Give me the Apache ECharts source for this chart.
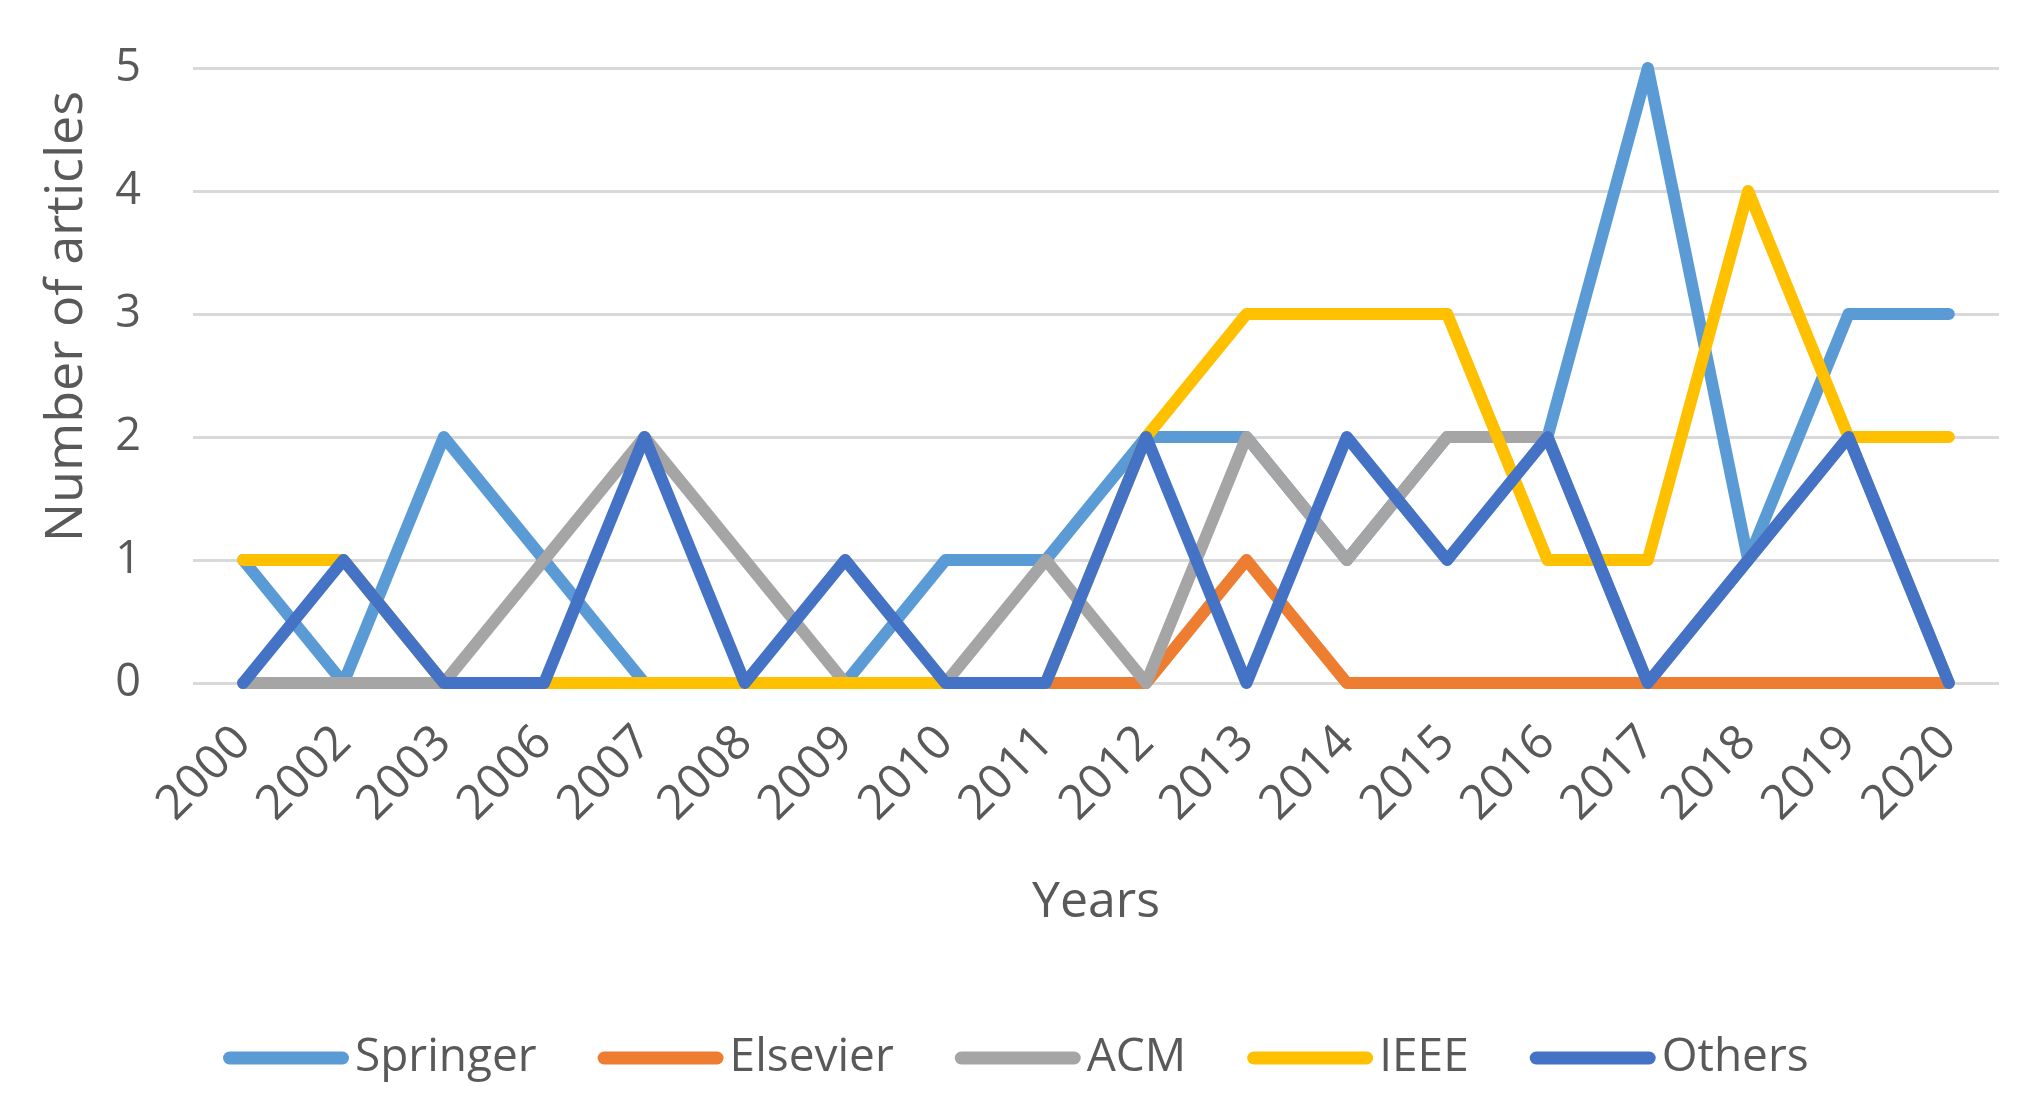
<!DOCTYPE html>
<html>
<head>
<meta charset="utf-8">
<script src="https://cdn.jsdelivr.net/npm/echarts@6/dist/echarts.min.js"></script>
<style>
html,body{margin:0;padding:0;background:#fff;}
#chart{width:2036px;height:1108px;}
</style>
</head>
<body>
<div id="chart"></div>
<script>
const years = ['2000','2002','2003','2006','2007','2008','2009','2010','2011','2012','2013','2014','2015','2016','2017','2018','2019','2020'];
const springer  = [1,0,2,1,0,0,0,1,1,2,2,1,2,2,5,1,3,3];
const elsevier  = [0,0,0,0,0,0,0,0,0,0,1,0,0,0,0,0,0,0];
const acm       = [0,0,0,1,2,1,0,0,1,0,2,1,2,2,0,1,2,0];
const ieee      = [1,1,0,0,0,0,0,0,0,2,3,3,3,1,1,4,2,2];
const others    = [0,1,0,0,2,0,1,0,0,2,0,2,1,2,0,1,2,0];
const yTicks = [0,1,2,3,4,5];

const seriesDefs = [
  {name:'Springer', data:springer, color:'#5B9BD5'},
  {name:'Elsevier', data:elsevier, color:'#ED7D31'},
  {name:'ACM', data:acm, color:'#A5A5A5'},
  {name:'IEEE', data:ieee, color:'#FFC000'},
  {name:'Others', data:others, color:'#4472C4'}
];

const font = 'Open Sans';
const txt = '#595959';
const chart = echarts.init(document.getElementById('chart'));
chart.setOption({
  animation:false,
  backgroundColor:'#fff',
  grid:{left:193, right:37, top:68, bottom:425, containLabel:false},
  legend:{
    bottom: 22,
    left:218,
    itemWidth:126,
    itemHeight:13,
    itemGap:61,
    icon:'path://M6.5,0 H119.5 A6.5,6.5 0 0 1 119.5,13 H6.5 A6.5,6.5 0 0 1 6.5,0 Z',
    textStyle:{fontFamily:font, fontSize:46, color:txt, padding:[0,0,0,1]},
    data: seriesDefs.map(s=>s.name)
  },
  xAxis:{
    type:'category',
    data:years,
    boundaryGap:true,
    name:'Years',
    nameLocation:'middle',
    nameGap:195,
    nameTextStyle:{fontFamily:font, fontSize:50, color:txt},
    axisLine:{show:false},
    axisTick:{show:false},
    axisLabel:{interval:0, rotate:45, margin:52, fontFamily:font, fontSize:48, color:txt}
  },
  yAxis:{
    type:'value',
    min:yTicks[0], max:yTicks[yTicks.length-1], interval:1,
    name:'Number of articles',
    nameLocation:'middle',
    nameGap:100,
    nameTextStyle:{fontFamily:font, fontSize:52, color:txt, padding:[0,0,0,118]},
    axisLine:{show:false},
    axisTick:{show:false},
    axisLabel:{margin:52, fontFamily:font, fontSize:45, color:txt},
    splitLine:{lineStyle:{color:'#D9D9D9', width:3}}
  },
  series: seriesDefs.map(s=>({
    name:s.name,
    type:'line',
    data:s.data,
    showSymbol:false,
    symbol:'none',
    color:s.color,
    lineStyle:{width:12, color:s.color, cap:'round', join:'round'},
    itemStyle:{color:s.color}
  }))
});
</script>
</body>
</html>
